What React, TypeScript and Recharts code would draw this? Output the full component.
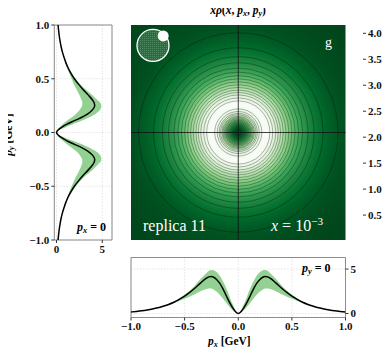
import React from 'react';
import {
  Area,
  CartesianGrid,
  ComposedChart,
  Line,
  ReferenceArea,
  ReferenceDot,
  ReferenceLine,
  Scatter,
  XAxis,
  YAxis,
  ZAxis,
} from 'recharts';

const radius = [0, 0.025, 0.05, 0.075, 0.1, 0.125, 0.15, 0.175, 0.2, 0.225, 0.25, 0.275, 0.3, 0.35, 0.4, 0.45, 0.5, 0.55, 0.6, 0.65, 0.7, 0.75, 0.8, 0.85, 0.9, 0.95, 1.0];
const central = [0, 0.2, 0.6, 1.1, 1.7, 2.35, 2.95, 3.45, 3.8, 4.05, 4.17, 4.12, 3.95, 3.45, 2.9, 2.4, 1.95, 1.58, 1.27, 1.02, 0.82, 0.64, 0.5, 0.39, 0.3, 0.23, 0.17];
const lower = [0, 0.1, 0.35, 0.65, 1.0, 1.4, 1.8, 2.15, 2.45, 2.65, 2.8, 2.82, 2.75, 2.5, 2.2, 1.9, 1.65, 1.4, 1.17, 0.97, 0.8, 0.63, 0.49, 0.385, 0.295, 0.225, 0.165];
const upper = [0, 0.35, 1.0, 1.7, 2.5, 3.2, 3.8, 4.3, 4.65, 4.85, 4.9, 4.8, 4.5, 3.9, 3.2, 2.6, 2.1, 1.7, 1.35, 1.07, 0.85, 0.66, 0.51, 0.395, 0.305, 0.235, 0.175];
// corners of the map, beyond |p| = 1
const tailRadius = [1.1, 1.2, 1.3, 1.42];
const tailValue = [0.12, 0.08, 0.05, 0.03];
// contour circles seen on the map
const contourRadii = [0.028, 0.044, 0.058, 0.07, 0.081, 0.092, 0.102, 0.112, 0.121, 0.131, 0.142, 0.152, 0.165, 0.178, 0.196, 0.22, 0.295, 0.322, 0.35, 0.373, 0.395, 0.42, 0.445, 0.472, 0.5, 0.53, 0.563, 0.6, 0.65, 0.707, 0.79, 0.93];

const momentumTicks = [-1, -0.5, 0, 0.5, 1];
const minorTicks = [-0.9, -0.8, -0.7, -0.6, -0.4, -0.3, -0.2, -0.1, 0.1, 0.2, 0.3, 0.4, 0.6, 0.7, 0.8, 0.9];
const densityTicks = [0, 5];
const colorbarTicks = [0.5, 1, 1.5, 2, 2.5, 3, 3.5, 4];

const VMIN = 0.02;
const VMAX = 4.16;
const GREENS = ['#f7fcf5', '#e5f5e0', '#c7e9c0', '#a1d99b', '#74c476', '#41ab5d', '#238b45', '#006d2c', '#00441b'];

const W = 391;
const H = 355;
const HALF = 107.25; // half width of the map in px

const SERIF = "'Liberation Serif', 'DejaVu Serif', serif";
const tickStyle = { fontFamily: SERIF, fontWeight: 'bold' as const, fontSize: 11, fill: '#111' };

function hex(c: string) {
  return [1, 3, 5].map((i) => parseInt(c.slice(i, i + 2), 16));
}

function greensR(v: number) {
  let t = (v - VMIN) / (VMAX - VMIN);
  t = Math.max(0, Math.min(1, t));
  const s = (1 - t) * (GREENS.length - 1);
  const i = Math.min(Math.floor(s), GREENS.length - 2);
  const f = s - i;
  const a = hex(GREENS[i]);
  const b = hex(GREENS[i + 1]);
  const rgb = a.map((x, k) => Math.round(x + (b[k] - x) * f));
  return `rgb(${rgb.join(',')})`;
}

const fmt = (v: number) => v.toFixed(1).replace('-', '\u2212');

const slice = [
  ...radius
    .slice(1)
    .map((r, i) => ({ p: -r, c: central[i + 1], band: [lower[i + 1], upper[i + 1]] }))
    .reverse(),
  ...radius.map((r, i) => ({ p: r, c: central[i], band: [lower[i], upper[i]] })),
];

const heatStops = [
  ...radius.map((r, i) => ({ off: r / 1.42, color: greensR(central[i]) })),
  ...tailRadius.map((r, i) => ({ off: r / 1.42, color: greensR(tailValue[i]) })),
];

const contours = contourRadii.map((r) => ({ x: 0, y: 0, r }));

const Sub = ({ v, s }: { v: string; s: string }) => (
  <span>
    <i>{v}</i>
    <sub style={{ fontSize: '0.7em', verticalAlign: '-0.25em' }}>
      <i>{s}</i>
    </sub>
  </span>
);

const abs = (left: number, top: number, extra: React.CSSProperties = {}): React.CSSProperties => ({
  position: 'absolute',
  left,
  top,
  fontFamily: SERIF,
  lineHeight: 1,
  whiteSpace: 'nowrap',
  ...extra,
});

export default function App() {
  return (
    <div style={{ position: 'relative', width: W, height: H, margin: -8, background: '#fff', overflow: 'hidden' }}>
      {/* density map */}
      <div style={{ position: 'absolute', left: 0, top: 0 }}>
        <ComposedChart width={W} height={H} data={contours} margin={{ top: 25, left: 131, right: 45.5, bottom: 115 }}>
          <defs>
            <radialGradient id="heat" cx="0.5" cy="0.5" r="0.71">
              {heatStops.map((s, i) => (
                <stop key={i} offset={s.off} stopColor={s.color} />
              ))}
            </radialGradient>
            <pattern id="hatch" width="2" height="2" patternUnits="userSpaceOnUse">
              <rect width="2" height="2" fill="#2c6a41" />
              <rect width="1" height="1" fill="#4f8a62" />
            </pattern>
          </defs>
          <XAxis xAxisId="maj" type="number" dataKey="x" domain={[-1, 1]} ticks={momentumTicks} tick={false} tickSize={4} height={0} allowDataOverflow stroke="#222" />
          <XAxis xAxisId="min" type="number" domain={[-1, 1]} ticks={minorTicks} tick={false} tickSize={2} height={0} axisLine={false} allowDataOverflow stroke="#222" />
          <YAxis yAxisId="maj" type="number" dataKey="y" domain={[-1, 1]} ticks={momentumTicks} tick={false} tickSize={4} width={0} allowDataOverflow stroke="#222" />
          <YAxis yAxisId="min" type="number" domain={[-1, 1]} ticks={minorTicks} tick={false} tickSize={2} width={0} axisLine={false} allowDataOverflow stroke="#222" />
          <ZAxis dataKey="r" type="number" domain={[0, 1]} range={[0, HALF]} />
          <ReferenceArea xAxisId="maj" yAxisId="maj" x1={-1} x2={1} y1={-1} y2={1} fill="url(#heat)" fillOpacity={1} stroke="none" />
          <Scatter
            xAxisId="maj"
            yAxisId="maj"
            dataKey="y"
            isAnimationActive={false}
            shape={(p: any) => {
              const rr = p.size != null ? p.size : Math.PI * (p.width / 2) ** 2;
              return <circle cx={p.cx} cy={p.cy} r={rr} fill="none" stroke="#000" strokeOpacity={0.5} strokeWidth={0.6} />;
            }}
          />
          <ReferenceLine xAxisId="maj" yAxisId="maj" x={0} stroke="#111" strokeWidth={0.8} />
          <ReferenceLine xAxisId="maj" yAxisId="maj" y={0} stroke="#111" strokeWidth={0.8} />
          <ReferenceDot xAxisId="maj" yAxisId="maj" x={-0.795} y={0.81} r={16} fill="url(#hatch)" stroke="#fff" strokeWidth={1.3} />
          <ReferenceDot xAxisId="maj" yAxisId="maj" x={-0.7} y={0.898} r={5.5} fill="#fff" stroke="none" />
        </ComposedChart>
      </div>

      {/* colour bar */}
      <div style={{ position: 'absolute', left: 0, top: 0 }}>
        <ComposedChart width={W} height={H} margin={{ top: 25, left: 353, right: 0, bottom: 115 }}>
          <defs>
            <linearGradient id="cbar" x1="0" y1="1" x2="0" y2="0">
              {GREENS.map((c, i) => (
                <stop key={i} offset={i / (GREENS.length - 1)} stopColor={GREENS[GREENS.length - 1 - i]} />
              ))}
            </linearGradient>
          </defs>
          <XAxis type="number" domain={[0, 1]} hide />
          <YAxis
            orientation="right"
            type="number"
            domain={[VMIN, VMAX]}
            ticks={colorbarTicks}
            allowDataOverflow
            width={28}
            tickSize={3}
            axisLine={false}
            stroke="#333"
            tick={tickStyle}
            tickFormatter={fmt}
          />
          <ReferenceArea x1={0} x2={1} y1={VMIN} y2={VMAX} fill="url(#cbar)" fillOpacity={1} stroke="#9a9a9a" strokeWidth={1} />
        </ComposedChart>
      </div>

      {/* p_y = 0 slice */}
      <div style={{ position: 'absolute', left: 0, top: 0 }}>
        <ComposedChart width={W} height={H} data={slice} margin={{ top: 257.5, left: 131, right: 0, bottom: 7.5 }}>
          <CartesianGrid stroke="#d4d4d4" strokeDasharray="1.5 1.5" strokeWidth={0.6} />
          <XAxis dataKey="p" type="number" domain={[-1, 1]} ticks={momentumTicks} tickFormatter={fmt} tick={tickStyle} tickSize={3} height={30} axisLine={false} stroke="#333" allowDataOverflow />
          <YAxis orientation="right" type="number" domain={[-0.45, 6.3]} ticks={densityTicks} tick={tickStyle} tickSize={3} width={45.5} axisLine={false} stroke="#333" allowDataOverflow />
          <Area dataKey="band" type="monotone" fill="#93d193" fillOpacity={1} stroke="none" isAnimationActive={false} />
          <Line dataKey="c" type="monotone" stroke="#000" strokeWidth={1.5} dot={false} isAnimationActive={false} />
          <ReferenceArea x1={-1} x2={1} y1={-0.45} y2={6.3} fill="none" stroke="#8c8c8c" strokeWidth={1} />
        </ComposedChart>
      </div>

      {/* p_x = 0 slice */}
      <div style={{ position: 'absolute', left: 0, top: 0 }}>
        <ComposedChart layout="vertical" width={W} height={H} data={slice} margin={{ top: 25, left: 0, right: 279, bottom: 0 }}>
          <CartesianGrid stroke="#d4d4d4" strokeDasharray="1.5 1.5" strokeWidth={0.6} />
          <XAxis type="number" domain={[-0.24, 6.06]} ticks={densityTicks} tick={tickStyle} tickSize={3} height={115} axisLine={false} stroke="#333" allowDataOverflow />
          <YAxis dataKey="p" type="number" reversed domain={[-1, 1]} ticks={momentumTicks} tickFormatter={fmt} tick={tickStyle} tickSize={3} width={54.3} axisLine={false} stroke="#333" allowDataOverflow />
          <Area dataKey="band" type="monotone" fill="#93d193" fillOpacity={1} stroke="none" isAnimationActive={false} />
          <Line dataKey="c" type="monotone" stroke="#000" strokeWidth={1.5} dot={false} isAnimationActive={false} />
          <ReferenceArea x1={-0.24} x2={6.06} y1={-1} y2={1} fill="none" stroke="#8c8c8c" strokeWidth={1} />
        </ComposedChart>
      </div>

      {/* texts */}
      <div style={abs(138, 5, { width: 200, textAlign: 'center', fontSize: 11.5, fontWeight: 'bold' })}>
        <i>x</i>
        <i>ρ</i>(<i>x</i>, <Sub v="p" s="x" />, <Sub v="p" s="y" />)
      </div>
      <div style={abs(325, 36, { fontSize: 14, color: '#fff' })}>g</div>
      <div style={abs(143, 218, { fontSize: 16, color: '#fff' })}>replica 11</div>
      <div style={abs(271, 216, { fontSize: 16, color: '#fff' })}>
        <i>x</i> = 10<sup style={{ fontSize: '0.7em', verticalAlign: '0.5em' }}>−3</sup>
      </div>
      <div style={abs(77, 221, { fontSize: 12, fontWeight: 'bold' })}>
        <Sub v="p" s="x" /> = 0
      </div>
      <div style={abs(302, 262, { fontSize: 12, fontWeight: 'bold' })}>
        <Sub v="p" s="y" /> = 0
      </div>
      <div style={abs(208, 336, { fontSize: 11.5, fontWeight: 'bold' })}>
        <Sub v="p" s="x" /> [GeV]
      </div>
      <div
        style={abs(-20, 128, {
          fontSize: 11.5,
          fontWeight: 'bold',
          transform: 'rotate(-90deg)',
          width: 60,
          textAlign: 'center',
        })}
      >
        <Sub v="p" s="y" /> [GeV]
      </div>
    </div>
  );
}
